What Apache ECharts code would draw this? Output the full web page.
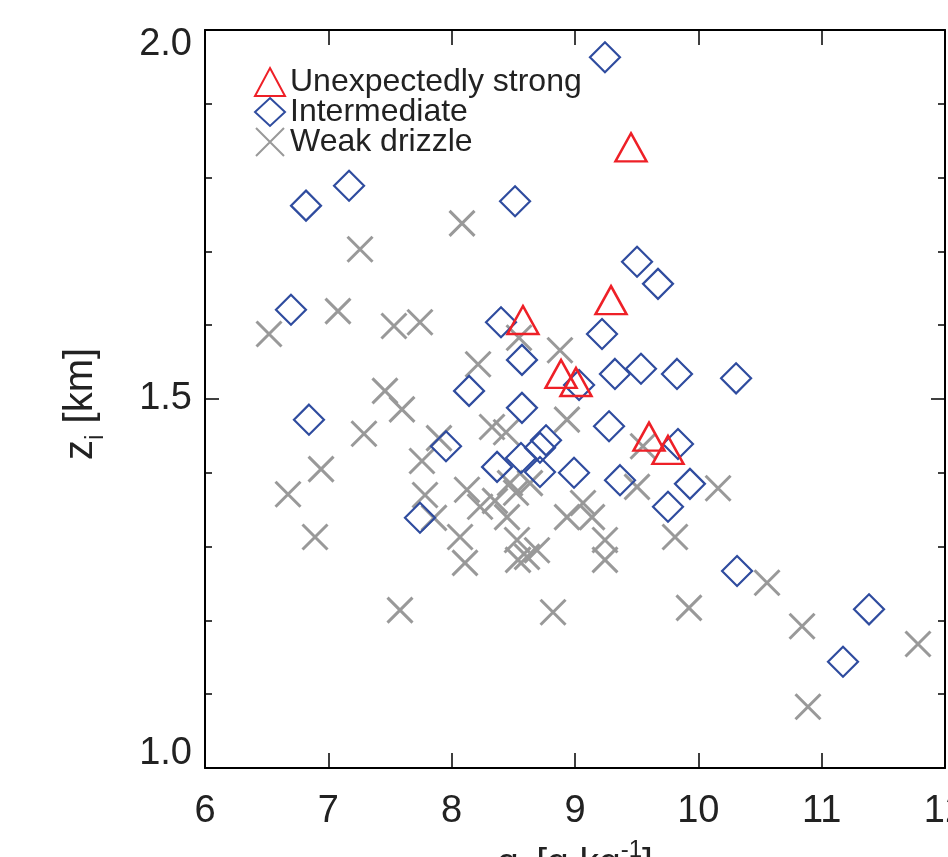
<!DOCTYPE html>
<html><head><meta charset="utf-8">
<script src="https://cdn.jsdelivr.net/npm/echarts@6/dist/echarts.min.js"></script>
<style>html,body{margin:0;padding:0;background:#fff}#c{width:948px;height:857px}</style>
</head><body><div id="c"></div>
<script>
// Unexpectedly strong (red triangles)
const strongQ = [9.454, 9.292, 8.578, 8.887, 9.008, 9.600, 9.754];
const strongZ = [1.841, 1.634, 1.607, 1.534, 1.523, 1.449, 1.431];
// Intermediate (blue diamonds)
const interQ = [9.243, 7.168, 6.819, 8.514, 9.503, 9.673, 6.697, 8.400, 9.219, 8.570,
                8.141, 9.324, 9.535, 9.827, 10.306, 9.033, 8.570, 6.843, 9.276, 7.954,
                8.765, 8.716, 8.562, 8.368, 8.716, 8.992, 9.835, 9.365, 9.932, 9.754,
                7.743, 10.314, 11.384, 11.173];
const interZ = [1.963, 1.789, 1.762, 1.768, 1.686, 1.656, 1.621, 1.604, 1.588, 1.553,
                1.511, 1.534, 1.541, 1.534, 1.528, 1.519, 1.488, 1.472, 1.463, 1.436,
                1.444, 1.434, 1.420, 1.408, 1.401, 1.400, 1.439, 1.390, 1.385, 1.354,
                1.339, 1.267, 1.215, 1.144];
// Weak drizzle (gray crosses)
const weakQ = [8.084, 7.257, 6.519, 7.078, 7.532, 7.743, 8.214, 8.546, 8.878, 7.459,
               7.597, 7.289, 6.673, 6.941, 6.892, 7.897, 8.327, 8.441, 8.935, 7.759,
               7.784, 7.857, 8.124, 8.230, 8.351, 8.473, 8.522, 8.068, 8.108, 8.449,
               8.530, 8.538, 8.635, 8.935, 9.065, 9.138, 9.243, 9.243, 8.692, 8.611,
               8.822, 7.581, 9.503, 10.160, 9.811, 9.924, 10.557, 10.841, 10.889, 11.781,
               9.551];
const weakZ = [1.738, 1.703, 1.588, 1.619, 1.599, 1.604, 1.547, 1.583, 1.566, 1.511,
               1.486, 1.453, 1.371, 1.405, 1.313, 1.447, 1.462, 1.455, 1.472, 1.416,
               1.370, 1.339, 1.377, 1.354, 1.362, 1.386, 1.373, 1.313, 1.278, 1.340,
               1.309, 1.282, 1.386, 1.340, 1.359, 1.340, 1.309, 1.282, 1.295, 1.286,
               1.211, 1.214, 1.381, 1.379, 1.313, 1.217, 1.251, 1.192, 1.083, 1.168,
               1.436];
const seriesNames = ['Unexpectedly strong', 'Intermediate', 'Weak drizzle'];
const xTickValues = [6, 7, 8, 9, 10, 11, 12];
const yTickValues = [1.0, 1.5, 2.0];

const FONT = 'Liberation Sans';
const TXT = '#222';
const pairs = (a, b) => a.map((v, i) => [v, b[i]]);
const X_PATH = 'path://M0 0L24 24M24 0L0 24';

const axisLine = {show: true, onZero: false, lineStyle: {color: '#000', width: 2}};
const chart = echarts.init(document.getElementById('c'));
chart.setOption({
  animation: false,
  backgroundColor: '#fff',
  grid: {left: 205, right: 3, top: 30, bottom: 89, containLabel: false, outerBoundsMode: 'none'},
  legend: {
    orient: 'vertical', left: 249, top: 61, itemGap: -2, itemWidth: 30, itemHeight: 28,
    data: seriesNames,
    textStyle: {fontSize: 32, color: TXT, fontFamily: FONT, lineHeight: 30}
  },
  xAxis: [{
    type: 'value', min: 6, max: 12, interval: 1, position: 'bottom',
    axisLine: axisLine, splitLine: {show: false},
    axisTick: {inside: true, length: 15, lineStyle: {color: '#000', width: 1.5}},
    axisLabel: {fontSize: 38, color: TXT, fontFamily: FONT, margin: 25,
      formatter: v => xTickValues.includes(v) ? String(v) : ''},
    name: '{z|q}{s|t}{z| [g kg}{p|-1}{z|]}', nameLocation: 'middle', nameGap: 68,
    nameTextStyle: {color: TXT, fontFamily: FONT, rich: {
      z: {fontSize: 39, lineHeight: 56, fontFamily: FONT, color: TXT},
      s: {fontSize: 24, lineHeight: 24, verticalAlign: 'bottom', fontFamily: FONT, color: TXT},
      p: {fontSize: 24, lineHeight: 24, verticalAlign: 'top', padding: [2, 0, 0, 0], fontFamily: FONT, color: TXT}}}
  }, {
    type: 'value', min: 6, max: 12, interval: 1, position: 'top',
    axisLine: axisLine, splitLine: {show: false},
    axisTick: {inside: true, length: 15, lineStyle: {color: '#000', width: 1.5}},
    axisLabel: {show: false}
  }],
  yAxis: [{
    type: 'value', min: 1.0, max: 2.0, interval: 0.5, position: 'left',
    axisLine: axisLine, splitLine: {show: false},
    axisTick: {inside: true, length: 14, lineStyle: {color: '#000', width: 1.5}},
    minorTick: {show: true, splitNumber: 5, length: 7, lineStyle: {color: '#000', width: 1.5}},
    minorSplitLine: {show: false},
    axisLabel: {fontSize: 38, lineHeight: 29, color: TXT, fontFamily: FONT, margin: 13,
      verticalAlignMinLabel: 'bottom', verticalAlignMaxLabel: 'top',
      formatter: v => yTickValues.some(t => Math.abs(t - v) < 1e-9) ? v.toFixed(1) : ''},
    name: '{z|z}{s|i}{z| [km]}', nameLocation: 'middle', nameRotate: 90, nameGap: 96,
    nameTextStyle: {color: TXT, fontFamily: FONT, padding: [0, 10, 0, 0], rich: {
      z: {fontSize: 40, lineHeight: 56, fontFamily: FONT, color: TXT},
      s: {fontSize: 25, lineHeight: 25, verticalAlign: 'bottom', fontFamily: FONT, color: TXT}}}
  }, {
    type: 'value', min: 1.0, max: 2.0, interval: 0.5, position: 'right',
    axisLine: axisLine, splitLine: {show: false},
    axisTick: {inside: true, length: 14, lineStyle: {color: '#000', width: 1.5}},
    minorTick: {show: true, splitNumber: 5, length: 7, lineStyle: {color: '#000', width: 1.5}},
    minorSplitLine: {show: false},
    axisLabel: {show: false}
  }],
  series: [{
    name: seriesNames[2], type: 'scatter', data: pairs(weakQ, weakZ),
    symbol: X_PATH, symbolSize: 25, symbolKeepAspect: true,
    itemStyle: {color: 'rgba(0,0,0,0)', borderColor: '#999999', borderWidth: 3, opacity: 1},
    emphasis: {disabled: true}, z: 2
  }, {
    name: seriesNames[1], type: 'scatter', data: pairs(interQ, interZ),
    symbol: 'diamond', symbolSize: [30, 30],
    itemStyle: {color: 'rgba(0,0,0,0)', borderColor: '#2F4C9F', borderWidth: 2.2, opacity: 1},
    emphasis: {disabled: true}, z: 3
  }, {
    name: seriesNames[0], type: 'scatter', data: pairs(strongQ, strongZ),
    symbol: 'triangle', symbolSize: [31, 28],
    itemStyle: {color: 'rgba(0,0,0,0)', borderColor: '#EE2027', borderWidth: 2.5, opacity: 1},
    emphasis: {disabled: true}, z: 4
  }]
});
</script></body></html>
